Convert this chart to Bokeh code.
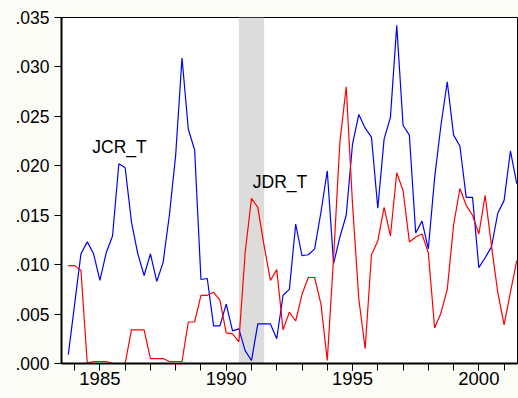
from bokeh.plotting import figure
from bokeh.models import Range1d, FixedTicker, CustomJSTickFormatter, BoxAnnotation, Label
from bokeh.embed import file_html
from bokeh.resources import INLINE

# quarterly observations, 1983Q4 .. 2001Q3
start_year = 1983.75
jcr_t = [0.0009, 0.0060, 0.0111, 0.0123, 0.0111, 0.0084, 0.0112, 0.0129,
         0.0202, 0.0198, 0.0143, 0.0111, 0.0089, 0.0111, 0.0083, 0.0102,
         0.0150, 0.0211, 0.0309, 0.0237, 0.0216, 0.0085, 0.0086, 0.0038,
         0.0038, 0.0060, 0.0033, 0.0035, 0.0013, 0.0003, 0.0040, 0.0040,
         0.0040, 0.0025, 0.0069, 0.0075, 0.0141, 0.0109, 0.0110, 0.0116,
         0.0153, 0.0195, 0.0101, 0.0128, 0.0150, 0.0222, 0.0252, 0.0238,
         0.0229, 0.0157, 0.0227, 0.0249, 0.0342, 0.0241, 0.0231, 0.0132,
         0.0144, 0.0116, 0.0188, 0.0241, 0.0285, 0.0231, 0.0220, 0.0168,
         0.0168, 0.0097, 0.0107, 0.0118, 0.0152, 0.0165, 0.0215, 0.0182]
jdr_t = [0.0099, 0.0099, 0.0094, 0.0000, 0.0002, 0.0002, 0.0002, 0.0000,
         0.0000, 0.0000, 0.0034, 0.0034, 0.0034, 0.0005, 0.0005, 0.0005,
         0.0002, 0.0002, 0.0002, 0.0042, 0.0042, 0.0069, 0.0069, 0.0072,
         0.0064, 0.0031, 0.0030, 0.0022, 0.0112, 0.0167, 0.0158, 0.0119,
         0.0084, 0.0095, 0.0034, 0.0052, 0.0043, 0.0070, 0.0087, 0.0087,
         0.0060, 0.0003, 0.0107, 0.0224, 0.0280, 0.0161, 0.0065, 0.0015,
         0.0110, 0.0124, 0.0158, 0.0129, 0.0193, 0.0175, 0.0123, 0.0128,
         0.0131, 0.0112, 0.0036, 0.0051, 0.0075, 0.0140, 0.0177, 0.0160,
         0.0150, 0.0131, 0.0170, 0.0119, 0.0072, 0.0039, 0.0072, 0.0104]
x = [start_year + 0.25 * i for i in range(len(jcr_t))]

recession = (1990.5, 1991.5)
x_major_ticks = [1985, 1990, 1995, 2000]
x_minor_ticks = list(range(1984, 2002))
y_ticks = [0.0, 0.005, 0.010, 0.015, 0.020, 0.025, 0.030, 0.035]

FONT = "Liberation Sans"

p = figure(width=518, height=398, output_backend="svg", toolbar_location=None,
           x_range=Range1d(1983.48, 2001.53), y_range=Range1d(0.0, 0.035),
           min_border_left=61, min_border_right=1, min_border_top=17,
           min_border_bottom=35)
p.background_fill_color = "white"
p.border_fill_color = "#fcfcf6"
p.outline_line_color = "black"
p.outline_line_width = 1
p.xgrid.visible = False
p.ygrid.visible = False

p.add_layout(BoxAnnotation(left=recession[0], right=recession[1],
                           fill_color="#dcdcdc", fill_alpha=1.0,
                           line_color=None, level="underlay"))

p.line(x, jcr_t, line_color="#0000ff", line_width=1.2)
p.line(x, jdr_t, line_color="#ff0000", line_width=1.2)

p.xaxis.ticker = FixedTicker(ticks=x_major_ticks, minor_ticks=x_minor_ticks)
p.yaxis.ticker = FixedTicker(ticks=y_ticks)
p.yaxis.formatter = CustomJSTickFormatter(code="return tick.toFixed(3).replace(/^0/, '');")
for ax in (p.xaxis[0], p.yaxis[0]):
    ax.axis_line_color = "black"
    ax.axis_line_width = 2
    ax.major_tick_line_color = "black"
    ax.minor_tick_line_color = "black"
    ax.major_tick_in = 0
    ax.major_tick_out = 7
    ax.minor_tick_in = 0
    ax.minor_tick_out = 7
    ax.major_label_text_font = FONT
    ax.major_label_text_color = "black"
p.xaxis.major_label_text_font_size = "18.5px"
p.yaxis.major_label_text_font_size = "17.5px"
p.xaxis.major_label_standoff = 1
p.yaxis.major_label_standoff = 5
p.yaxis.minor_tick_out = 0

p.add_layout(Label(x=1984.7, y=0.0219, text="JCR_T", text_font=FONT,
                   text_font_size="17.5px", text_color="black",
                   text_baseline="alphabetic"))
p.add_layout(Label(x=1991.05, y=0.01835, text="JDR_T", text_font=FONT,
                   text_font_size="17.5px", text_color="black",
                   text_baseline="alphabetic"))

open("out.html", "w").write(file_html(p, INLINE))
